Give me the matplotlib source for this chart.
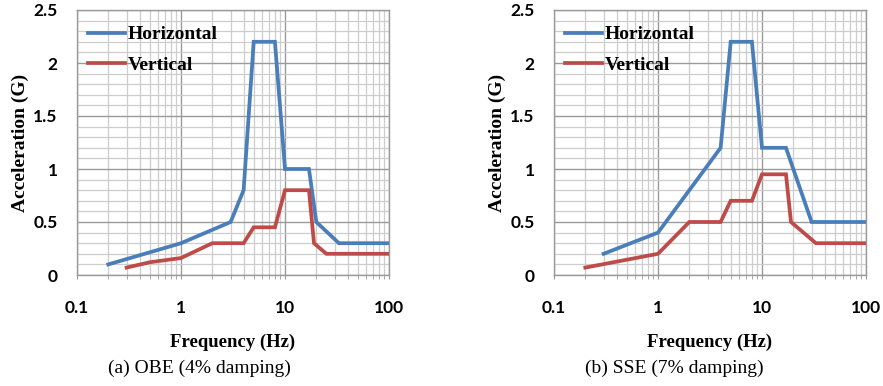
import matplotlib
matplotlib.use("Agg")
import matplotlib.pyplot as plt
from matplotlib.ticker import LogLocator, MultipleLocator, FixedLocator, FixedFormatter, NullFormatter

# ---- data ----
obe_h_freq = [0.2, 1, 3, 4, 5, 8, 10, 17, 20, 33, 100]
obe_h_acc = [0.1, 0.3, 0.5, 0.8, 2.2, 2.2, 1.0, 1.0, 0.5, 0.3, 0.3]
obe_v_freq = [0.3, 0.5, 1, 2, 4, 5, 8, 10, 17, 19, 25, 100]
obe_v_acc = [0.07, 0.12, 0.16, 0.3, 0.3, 0.45, 0.45, 0.8, 0.8, 0.3, 0.2, 0.2]

sse_h_freq = [0.3, 1, 4, 5, 8, 10, 17, 30, 100]
sse_h_acc = [0.2, 0.4, 1.2, 2.2, 2.2, 1.2, 1.2, 0.5, 0.5]
sse_v_freq = [0.2, 1, 2, 4, 5, 8, 10, 17, 19, 33, 100]
sse_v_acc = [0.07, 0.2, 0.5, 0.5, 0.7, 0.7, 0.95, 0.95, 0.5, 0.3, 0.3]

x_ticks = [0.1, 1, 10, 100]
x_tick_labels = ["0.1", "1", "10", "100"]
y_ticks = [0, 0.5, 1, 1.5, 2, 2.5]
y_tick_labels = ["0", "0.5", "1", "1.5", "2", "2.5"]
series_names = ["Horizontal", "Vertical"]
captions = ["(a) OBE (4% damping)", "(b) SSE (7% damping)"]

BLUE = "#4a7ebb"
RED = "#be4b48"
MAJOR = "#9a9a9a"
MINOR = "#cdcdcd"

W, H = 883, 386
fig = plt.figure(figsize=(W / 100, H / 100), dpi=100)

panels = [
    (77, (obe_h_freq, obe_h_acc, obe_v_freq, obe_v_acc), captions[0], 199),
    (554, (sse_h_freq, sse_h_acc, sse_v_freq, sse_v_acc), captions[1], 674),
]

serif = "Liberation Serif"
sans = "Lato"

for left_px, (hf, ha, vf, va), cap, cap_x in panels:
    ax = fig.add_axes([left_px / W, (H - 275) / H, 312 / W, 265 / H])
    ax.set_xscale("log")
    ax.set_xlim(0.1, 100)
    ax.set_ylim(0, 2.5)
    ax.plot(hf, ha, color=BLUE, lw=2.7, label=series_names[0], solid_joinstyle="miter", zorder=3)
    ax.plot(vf, va, color=RED, lw=2.7, label=series_names[1], solid_joinstyle="miter", zorder=3)

    ax.xaxis.set_major_locator(FixedLocator(x_ticks))
    ax.xaxis.set_major_formatter(FixedFormatter(x_tick_labels))
    ax.xaxis.set_minor_locator(LogLocator(base=10, subs=range(2, 10)))
    ax.xaxis.set_minor_formatter(NullFormatter())
    ax.yaxis.set_major_locator(FixedLocator(y_ticks))
    ax.yaxis.set_major_formatter(FixedFormatter(y_tick_labels))
    ax.yaxis.set_minor_locator(MultipleLocator(0.1))

    ax.grid(which="major", color=MAJOR, lw=1.0, zorder=0)
    ax.grid(which="minor", color=MINOR, lw=0.9, zorder=0)
    ax.set_axisbelow(True)
    for s in ax.spines.values():
        s.set_color(MAJOR)
        s.set_linewidth(1.0)

    ax.tick_params(axis="x", which="both", length=3, color=MAJOR, pad=15)
    ax.tick_params(axis="y", which="both", length=0, pad=14)
    for lab in ax.get_xticklabels() + ax.get_yticklabels():
        lab.set_fontfamily(sans)
        lab.set_fontweight("bold")
        lab.set_fontsize(12.5)

    ax.set_xlabel("Frequency (Hz)", fontfamily=serif, fontweight="bold", fontsize=13.5, labelpad=13)
    ax.set_ylabel("Acceleration (G)", fontfamily=serif, fontweight="bold", fontsize=14, labelpad=3)

    leg = ax.legend(loc="upper left", frameon=False, prop={"family": serif, "weight": "bold", "size": 14},
                    handlelength=1.9, handletextpad=0.15, labelspacing=0.68,
                    borderaxespad=0.0, bbox_to_anchor=(0.01, 0.97))

    fig.text(cap_x / W, 1 - 368 / H, cap, fontfamily=serif, fontsize=14, ha="center", va="center")

fig.savefig("out.png", dpi=100)
